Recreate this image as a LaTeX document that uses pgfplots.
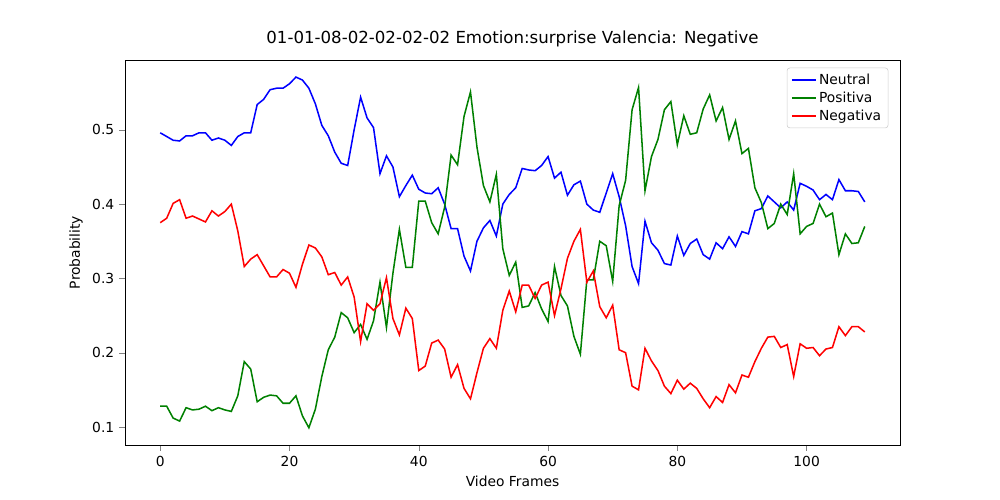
\documentclass[border=0pt]{standalone}
\usepackage{pgfplots}
\pgfplotsset{compat=1.18}
\usepackage{fontspec}
\setmainfont{DejaVu Sans}
\begin{document}
\begin{tikzpicture}
\begin{axis}[at={(0,0)},anchor=south west,
 width=7.75in,height=3.85in,scale only axis,
 xmin=-5.45,xmax=114.45,ymin=0.0758,ymax=0.594,
 xtick={0,20,40,60,80,100},ytick={0.1,0.2,0.3,0.4,0.5},
 yticklabel style={/pgf/number format/fixed,/pgf/number format/precision=1},
 /pgf/number format/assume math mode=true,
 tick align=outside, tick pos=left,
 title style={font=\fontsize{12}{14}\selectfont},
 title={01-01-08-02-02-02-02 Emotion:surprise Valencia: Negative},
 xlabel={Video Frames}, ylabel={Probability},
 legend style={at={(0.985,0.98)},anchor=north east,font=\normalsize,draw=black!20,rounded corners=2pt},
 legend cell align=left]
\addplot[blue,line width=1.1pt] table[x expr=\coordindex,y index=0]{
y
0.496
0.491
0.486
0.485
0.492
0.492
0.496
0.496
0.486
0.489
0.486
0.479
0.491
0.496
0.496
0.534
0.541
0.554
0.556
0.556
0.562
0.571
0.567
0.556
0.535
0.506
0.492
0.470
0.455
0.452
0.500
0.544
0.516
0.503
0.441
0.465
0.450
0.410
0.425
0.439
0.420
0.415
0.414
0.422
0.400
0.367
0.367
0.330
0.310
0.350
0.368
0.378
0.357
0.400
0.413
0.422
0.448
0.446
0.445
0.452
0.464
0.435
0.443
0.412
0.426
0.431
0.400
0.392
0.389
0.415
0.441
0.410
0.371
0.316
0.293
0.377
0.348
0.338
0.320
0.318
0.357
0.331
0.347
0.353
0.332
0.326
0.348
0.340
0.356
0.343
0.363
0.360
0.391
0.394
0.411
0.403
0.395
0.403
0.392
0.428
0.424
0.419
0.406
0.413
0.406
0.433
0.418
0.418
0.417
0.403
};
\addlegendentry{Neutral}
\addplot[green!50!black,line width=1.1pt] table[x expr=\coordindex,y index=0]{
y
0.128
0.128
0.112
0.108
0.126
0.123
0.124
0.128
0.122
0.126
0.123
0.121
0.142
0.188
0.178
0.134
0.140
0.143
0.142
0.132
0.132
0.142
0.115
0.099
0.124
0.168
0.204
0.221
0.254
0.247
0.227
0.238
0.218
0.243
0.295
0.234
0.307
0.366
0.315
0.315
0.404
0.404
0.375
0.360
0.396
0.466
0.453
0.518
0.551
0.477
0.425
0.403
0.440
0.340
0.304
0.322
0.261
0.263
0.281
0.259
0.242
0.316
0.277
0.263
0.222
0.198
0.298
0.298
0.350
0.344
0.296
0.398
0.432
0.527
0.557
0.418
0.464
0.487
0.527
0.538
0.480
0.519
0.494
0.496
0.528
0.547
0.512
0.530
0.487
0.512
0.468
0.475
0.422
0.402
0.367
0.374
0.400
0.386
0.441
0.360
0.370
0.374
0.400
0.383
0.388
0.332
0.360
0.347
0.348
0.370
};
\addlegendentry{Positiva}
\addplot[red,line width=1.1pt] table[x expr=\coordindex,y index=0]{
y
0.375
0.381
0.401
0.406
0.381
0.384
0.380
0.376
0.391
0.384
0.390
0.400
0.364
0.316
0.326
0.332
0.317
0.302
0.302
0.312
0.307
0.288
0.319
0.345
0.341
0.329
0.305
0.308
0.291
0.302
0.275
0.215
0.266
0.257
0.266
0.301
0.246
0.224
0.260
0.246
0.176
0.182
0.213
0.217
0.205
0.167
0.184
0.152
0.138
0.173
0.206
0.219
0.206
0.257
0.283
0.255
0.291
0.291
0.273
0.291
0.295
0.250
0.286
0.327
0.350
0.366
0.295
0.310
0.262
0.247
0.264
0.204
0.200
0.155
0.150
0.206
0.189
0.176
0.155
0.145
0.163
0.151
0.159
0.152
0.138
0.126
0.141
0.133
0.157
0.146
0.170
0.167
0.188
0.206
0.221
0.222
0.207
0.211
0.168
0.212
0.206
0.207
0.196
0.205
0.207
0.235
0.223
0.235
0.235
0.228
};
\addlegendentry{Negativa}
\end{axis}
\pgfresetboundingbox
\path (-1.25in,-0.55in) rectangle (8.75in,4.45in);
\end{tikzpicture}
\end{document}
